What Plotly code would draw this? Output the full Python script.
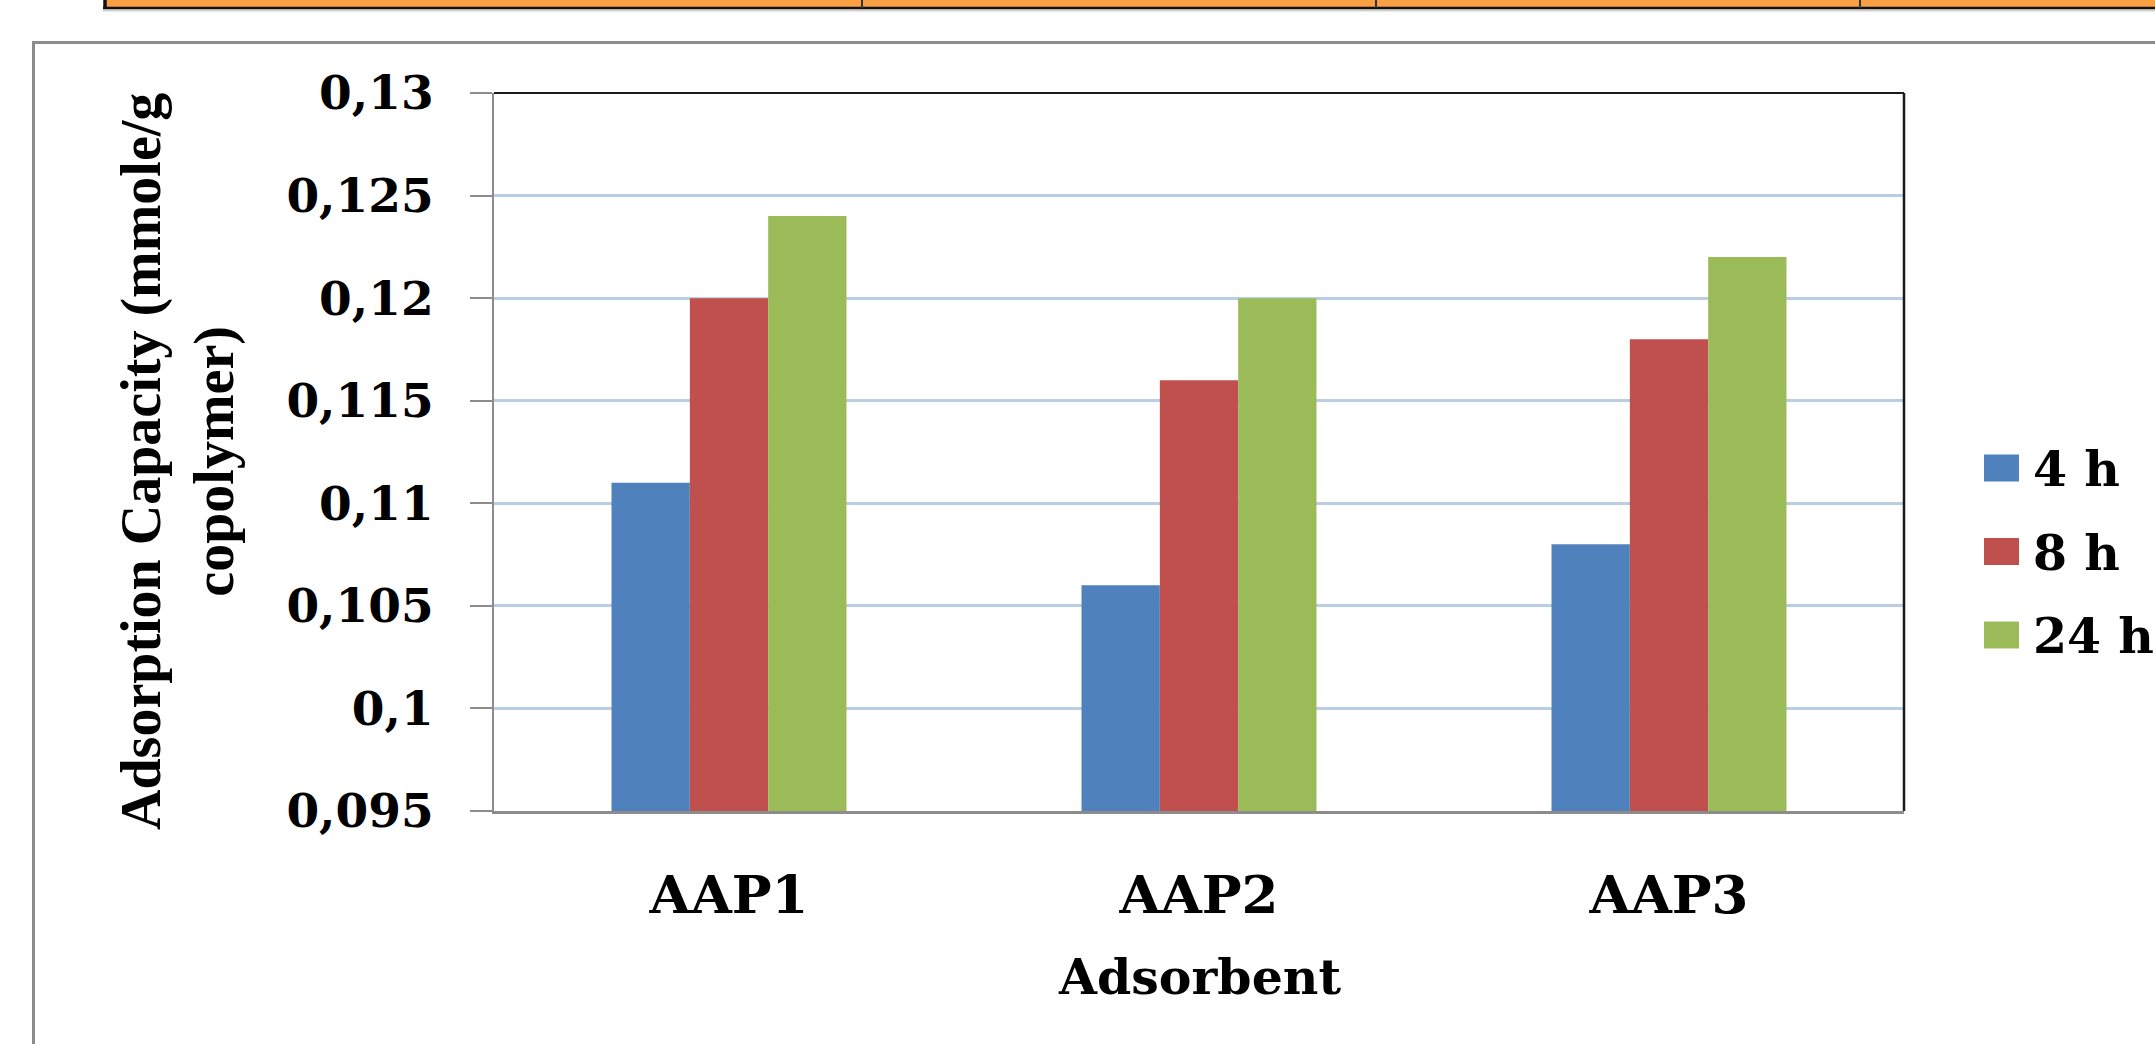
import plotly.graph_objects as go

# Adsorption capacity per adsorbent and contact time
adsorbents = ["AAP1", "AAP2", "AAP3"]
series_names = ["4 h", "8 h", "24 h"]
capacity_4h = [0.111, 0.106, 0.108]
capacity_8h = [0.120, 0.116, 0.118]
capacity_24h = [0.124, 0.120, 0.122]
series_colors = ["#4F81BD", "#C0504D", "#9BBB59"]

y_ticks = [0.095, 0.1, 0.105, 0.11, 0.115, 0.12, 0.125, 0.13]
y_tick_labels = ["0,095", "0,1", "0,105", "0,11", "0,115", "0,12", "0,125", "0,13"]

# Page geometry (pixels) and plot-area margins
W, H = 2155, 1044
L, R, T, B = 494, 251, 93, 233
PW = W - L - R
PH = H - T - B


def px(x):
    """Pixel column -> paper x."""
    return (x - L) / PW


def py(y):
    """Pixel row (from top) -> paper y."""
    return (H - B - y) / PH


SERIF_WIDE = "DejaVu Serif"
SERIF = "Liberation Serif, Times New Roman, serif"

fig = go.Figure()
for name, values, color in zip(series_names, [capacity_4h, capacity_8h, capacity_24h], series_colors):
    fig.add_trace(go.Bar(
        x=adsorbents, y=values, name=name,
        marker=dict(color=color, line=dict(width=0)),
        showlegend=False,
    ))

shapes = []
annotations = []

# Outer chart frame
shapes.append(dict(type="rect", xref="paper", yref="paper",
                   x0=px(33.5), x1=px(2400), y0=py(42.5), y1=py(1300),
                   line=dict(color="#8C8C8C", width=3), fillcolor="rgba(0,0,0,0)"))

# Table row strip along the top edge
shapes.append(dict(type="rect", xref="paper", yref="paper",
                   x0=px(105), x1=px(2300), y0=py(-10), y1=py(7),
                   line=dict(width=0), fillcolor="#F8A043"))
shapes.append(dict(type="line", xref="paper", yref="paper",
                   x0=px(103), x1=px(2300), y0=py(10.5), y1=py(10.5),
                   line=dict(color="#D0D0D0", width=2)))
shapes.append(dict(type="line", xref="paper", yref="paper",
                   x0=px(103), x1=px(2300), y0=py(8), y1=py(8),
                   line=dict(color="#111111", width=2.5)))
shapes.append(dict(type="line", xref="paper", yref="paper",
                   x0=px(105), x1=px(105), y0=py(-10), y1=py(9),
                   line=dict(color="#111111", width=3.5)))
for xd in [862, 1376, 1860]:
    shapes.append(dict(type="line", xref="paper", yref="paper",
                       x0=px(xd), x1=px(xd), y0=py(-10), y1=py(8),
                       line=dict(color="#333333", width=2)))

# Plot-area border on the top and right sides
shapes.append(dict(type="line", xref="paper", yref="paper", x0=0, x1=1, y0=1, y1=1,
                   line=dict(color="#1A1A1A", width=2)))
shapes.append(dict(type="line", xref="paper", yref="paper", x0=1, x1=1, y0=0, y1=1,
                   line=dict(color="#1A1A1A", width=2.5)))

# Legend drawn as swatches with labels
for i, (name, color) in enumerate(zip(series_names, series_colors)):
    yc = 468 + 83.5 * i
    shapes.append(dict(type="rect", xref="paper", yref="paper",
                       x0=px(1984), x1=px(2019), y0=py(yc + 13.5), y1=py(yc - 13.5),
                       line=dict(width=0), fillcolor=color))
    annotations.append(dict(text=name, xref="paper", yref="paper",
                            x=px(2031), y=py(yc + 1), xanchor="left", yanchor="middle",
                            showarrow=False,
                            font=dict(family=SERIF_WIDE, size=49, color="black", weight="bold")))

# Axis titles
annotations.append(dict(text="Adsorption Capacity (mmole/g<br>copolymer)",
                        xref="paper", yref="paper", x=px(178), y=py(462),
                        xanchor="center", yanchor="middle", textangle=-90, showarrow=False,
                        font=dict(family=SERIF, size=56, color="black", weight="bold")))
annotations.append(dict(text="Adsorbent", xref="paper", yref="paper",
                        x=0.5, y=py(977), xanchor="center", yanchor="middle", showarrow=False,
                        font=dict(family=SERIF_WIDE, size=49, color="black", weight="bold")))

fig.update_layout(
    width=W, height=H,
    margin=dict(l=L, r=R, t=T, b=B, pad=0, autoexpand=False),
    paper_bgcolor="white", plot_bgcolor="white",
    barmode="group", bargap=0.5, bargroupgap=0,
    shapes=shapes, annotations=annotations,
    showlegend=False,
    xaxis=dict(
        type="category", showline=True, linecolor="#8C8C8C", linewidth=2.5,
        ticks="", showgrid=False, zeroline=False, automargin=False,
        tickfont=dict(family=SERIF_WIDE, size=53, color="black", weight="bold"),
        ticklabelstandoff=36,
    ),
    yaxis=dict(
        range=[0.095, 0.13], tickvals=y_ticks, ticktext=y_tick_labels,
        showline=True, linecolor="#8C8C8C", linewidth=2,
        ticks="outside", ticklen=22, tickwidth=2, tickcolor="#8C8C8C",
        showgrid=True, gridcolor="#B9CDE5", gridwidth=2.5, zeroline=False,
        automargin=False,
        tickfont=dict(family=SERIF_WIDE, size=47, color="black", weight="bold"),
        ticklabelstandoff=27,
    ),
)

fig.write_html("out.html")
